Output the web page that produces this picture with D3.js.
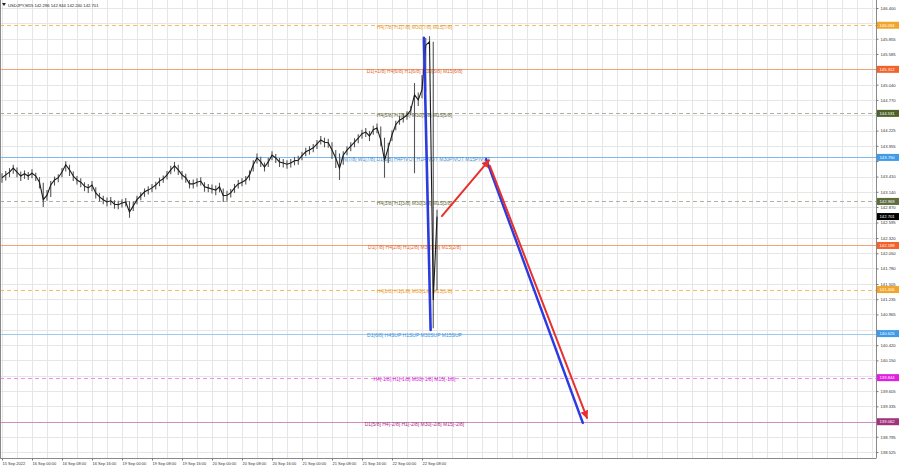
<!DOCTYPE html>
<html><head><meta charset="utf-8">
<script src="https://cdn.jsdelivr.net/npm/d3@7"></script>
<style>body{margin:0;background:#fff}svg{display:block;font-family:"Liberation Sans",Arial,sans-serif}</style>
</head><body><svg id="c" width="900" height="468"></svg>
<script>
// ---- data (hourly bars, hour 0 = 15 Sep 2022 16:00, trading hours) ----
const closes=[143.39,143.44,143.49,143.56,143.49,143.42,143.46,143.42,143.47,143.42,
143.31,143.00,143.08,143.26,143.35,143.39,143.49,143.62,143.53,143.42,
143.35,143.31,143.24,143.21,143.26,143.12,143.05,143.00,142.96,142.98,
142.92,142.91,142.94,142.96,142.78,142.89,143.00,143.07,143.14,143.17,
143.21,143.26,143.33,143.37,143.44,143.53,143.60,143.53,143.44,143.39,
143.28,143.28,143.31,143.33,143.23,143.21,143.19,143.17,143.23,143.07,
143.08,143.12,143.21,143.28,143.31,143.35,143.44,143.62,143.74,143.67,
143.58,143.67,143.79,143.74,143.67,143.65,143.63,143.65,143.69,143.70,
143.78,143.85,143.88,143.92,143.99,144.06,144.02,144.01,143.88,143.74,
143.56,143.79,143.88,143.95,144.02,144.09,144.17,144.20,144.13,144.24,
144.27,144.06,143.70,143.92,144.15,144.33,144.41,144.45,144.50,144.59,
144.86,144.77,144.95,145.74,145.80,141.22,142.70];
const highs=[143.47,143.51,143.56,143.62,143.57,143.50,143.52,143.49,143.54,143.48,
143.40,143.30,143.17,143.33,143.41,143.45,143.56,143.68,143.62,143.50,
143.42,143.38,143.31,143.28,143.33,143.22,143.12,143.07,143.04,143.05,
142.99,142.98,143.01,143.03,142.97,142.97,143.07,143.13,143.20,143.24,
143.28,143.32,143.39,143.43,143.51,143.60,143.67,143.62,143.51,143.46,
143.35,143.36,143.38,143.40,143.31,143.28,143.27,143.25,143.30,143.20,
143.16,143.19,143.28,143.35,143.38,143.42,143.52,143.70,143.82,143.76,
143.66,143.74,143.86,143.81,143.74,143.72,143.70,143.72,143.76,143.78,
143.85,143.92,143.95,143.99,144.06,144.13,144.10,144.08,144.02,143.88,
143.82,143.86,143.95,144.02,144.09,144.16,144.24,144.27,144.22,144.31,
144.35,144.30,144.10,144.01,144.23,144.40,144.48,144.53,144.57,144.66,
145.07,144.90,145.21,145.87,145.90,145.80,142.82];
const lows=[143.30,143.34,143.40,143.46,143.40,143.33,143.37,143.35,143.38,143.33,
143.20,142.87,142.98,143.05,143.25,143.31,143.40,143.50,143.42,143.33,
143.27,143.22,143.15,143.12,143.15,143.02,142.97,142.92,142.88,142.90,
142.84,142.83,142.86,142.88,142.68,142.80,142.92,142.99,143.05,143.09,
143.13,143.18,143.24,143.30,143.36,143.45,143.50,143.44,143.36,143.30,
143.20,143.20,143.23,143.25,143.14,143.13,143.11,143.08,143.13,142.96,
142.98,143.04,143.12,143.20,143.24,143.27,143.34,143.50,143.64,143.58,
143.50,143.58,143.70,143.65,143.58,143.57,143.55,143.57,143.61,143.62,
143.70,143.77,143.80,143.84,143.90,143.98,143.93,143.92,143.72,143.56,
143.35,143.62,143.79,143.86,143.93,144.00,144.08,144.11,144.04,144.15,
144.18,143.95,143.39,143.65,144.04,144.23,144.33,144.37,144.42,144.50,
143.47,144.66,144.80,144.92,145.66,140.72,141.40];

const timeLabels=["15 Sep 2022","16 Sep 00:00","16 Sep 08:00","16 Sep 16:00","19 Sep 00:00","19 Sep 08:00","19 Sep 16:00","20 Sep 00:00","20 Sep 08:00","20 Sep 16:00","21 Sep 00:00","21 Sep 08:00","21 Sep 16:00","22 Sep 00:00","22 Sep 08:00"];
const timeTickHours=[0,8,16,24,32,40,48,56,64,72,80,88,96,104,112];
const priceTicks=[146.400,146.130,145.855,145.585,145.315,145.040,144.770,144.500,144.225,143.955,143.685,143.410,143.140,142.870,142.595,142.320,142.050,141.780,141.505,141.235,140.965,140.690,140.420,140.150,139.875,139.605,139.335,139.060,138.795,138.525];

const levelPrices=[146.094,145.312,144.531,143.750,142.969,142.188,141.406,140.625,139.844,139.062];
const levelTexts=["H4[7/8] H1[7/8] M30[7/8] M15[7/8]",
"D1[+1/8] H4[6/8] H1[6/8] M30[6/8] M15[6/8]",
"H4[5/8] H1[5/8] M30[5/8] M15[5/8]",
"MN[7/8] W1[7/8] D1[5/8] H4PIVOT H1PIVOT M30PIVOT M15PIVOT",
"H4[3/8] H1[3/8] M30[3/8] M15[3/8]",
"D1[7/8] H4[2/8] H1[2/8] M30[2/8] M15[2/8]",
"H4[1/8] H1[1/8] M30[1/8] M15[1/8]",
"D1[6/8] H4SUP H1SUP M30SUP M15SUP",
"H4[-1/8] H1[-1/8] M30[-1/8] M15[-1/8]",
"D1[5/8] H4[-2/8] H1[-2/8] M30[-2/8] M15[-2/8]"];
const currentPrice=142.701;
const titleText="USDJPY,M15  142.286 142.844 142.240 142.701";

// forecast drawings (hour, price)
const blueDropHours=[112.5,114.3], blueDropPrices=[145.87,140.69];
const blueFcHours=[129.1,154.9], blueFcPrices=[143.72,139.04];
const redUpHours=[117.3,129.9], redUpPrices=[142.71,143.70];
const redDownHours=[130.1,156.0], redDownPrices=[143.60,139.13];

// ---- styles ----
const levelLine=["#f3bd6a","#f0a47a","#b0b0a0","#7dbbee","#b0b0a0","#f0a47a","#f3bd6a","#9ccbf0","#f28cf2","#cf8cc0"];
const levelDash=[true,false,true,false,true,false,true,false,true,false];
const levelText=["#e89a2a","#e8642c","#5e6c34","#3a90d8","#5e6c34","#e8642c","#e89a2a","#3a90d8","#d228d2","#a3327c"];
const levelBox=["#f2a52a","#f2622a","#4f6228","#3d9be9","#5d6b3d","#f2622a","#f2a52a","#3d9be9","#e020e0","#a3327c"];

const svg=d3.select("#c");
const W=876,B=458;
const x=d3.scaleLinear().domain([0,232]).range([2,872]);
const y=d3.scaleLinear().domain([138.525,146.4]).range([452,8]);

// grid
const g=svg.append("g");
g.selectAll(".gv").data(d3.range(0,234,4)).join("line")
 .attr("x1",d=>Math.round(x(d))+0.5).attr("x2",d=>Math.round(x(d))+0.5).attr("y1",0).attr("y2",B)
 .attr("stroke","#e6e6e6").attr("stroke-width",1);
g.selectAll(".gh").data(priceTicks).join("line")
 .attr("x1",0).attr("x2",W).attr("y1",d=>Math.round(y(d))+0.5).attr("y2",d=>Math.round(y(d))+0.5)
 .attr("stroke","#e6e6e6").attr("stroke-width",1);

// level lines
const lv=svg.append("g");
lv.selectAll("line").data(levelPrices).join("line")
 .attr("x1",0).attr("x2",W).attr("y1",d=>Math.round(y(d))+0.5).attr("y2",d=>Math.round(y(d))+0.5)
 .attr("stroke",(d,i)=>levelLine[i]).attr("stroke-width",1)
 .attr("stroke-dasharray",(d,i)=>levelDash[i]?"4,3":null);
lv.selectAll("text").data(levelPrices).join("text")
 .attr("x",x(110)).attr("y",d=>y(d)+3.8).attr("text-anchor","middle")
 .attr("font-size",5).attr("fill",(d,i)=>levelText[i]).text((d,i)=>levelTexts[i]);

// price bars
const bars=svg.append("g");
bars.selectAll("line").data(closes).join("line")
 .attr("x1",(d,i)=>x(i)).attr("x2",(d,i)=>x(i))
 .attr("y1",(d,i)=>y(highs[i])).attr("y2",(d,i)=>y(lows[i]))
 .attr("stroke","#555").attr("stroke-width",1.1);
bars.append("path").datum(closes)
 .attr("d",d3.line().x((d,i)=>x(i)).y(d=>y(d)))
 .attr("fill","none").attr("stroke","#1a1a1a").attr("stroke-width",1.1);

// forecast drawings
const defs=svg.append("defs");
defs.append("marker").attr("id","ah").attr("viewBox","0 0 10 10").attr("refX",9).attr("refY",5)
 .attr("markerWidth",4).attr("markerHeight",4).attr("orient","auto")
 .append("path").attr("d","M0,0L10,5L0,10z").attr("fill","#e8302c");
function seg(hs,ps,col,w,arrow){
 const l=svg.append("line").attr("x1",x(hs[0])).attr("y1",y(ps[0])).attr("x2",x(hs[1])).attr("y2",y(ps[1]))
  .attr("stroke",col).attr("stroke-width",w).attr("stroke-linecap","round");
 if(arrow) l.attr("marker-end","url(#ah)");
}
seg(blueDropHours,blueDropPrices,"#2b3be0",2.6,false);
seg(blueFcHours,blueFcPrices,"#2b3be0",2.4,false);
seg(redUpHours,redUpPrices,"#e8302c",2,true);
seg(redDownHours,redDownPrices,"#e8302c",2,true);

// frame
svg.append("line").attr("x1",W+0.5).attr("x2",W+0.5).attr("y1",0).attr("y2",B+0.5).attr("stroke","#8a8a8a");
svg.append("line").attr("x1",0).attr("x2",W).attr("y1",B+0.5).attr("y2",B+0.5).attr("stroke","#8a8a8a");
svg.append("line").attr("x1",0.5).attr("x2",0.5).attr("y1",0).attr("y2",B).attr("stroke","#8a8a8a");

// right axis (tick labels hidden where a level box covers them, as in the terminal)
const boxP=levelPrices.concat([currentPrice]);
const covered=p=>boxP.some(b=>Math.abs(y(b)-y(p))<4.5);
const ya=svg.append("g").attr("transform",`translate(${W+0.5},0)`)
 .call(d3.axisRight(y).tickValues(priceTicks).tickFormat(d3.format(".3f")).tickSize(2).tickPadding(2));
ya.select(".domain").remove();
ya.selectAll("line").attr("stroke","#777");
ya.selectAll("text").attr("font-size",4.2).attr("fill","#333").attr("font-family","Liberation Sans, Arial, sans-serif");
ya.selectAll(".tick").filter(d=>covered(d)).select("text").remove();

// bottom axis
const xa=svg.append("g").attr("transform",`translate(0,${B+0.5})`)
 .call(d3.axisBottom(x).tickValues(timeTickHours).tickFormat((d,i)=>timeLabels[i]).tickSize(2).tickPadding(2));
xa.select(".domain").remove();
xa.selectAll("line").attr("stroke","#777");
xa.selectAll("text").attr("font-size",4).attr("fill","#333").attr("text-anchor","start").attr("dx",0)
 .attr("font-family","Liberation Sans, Arial, sans-serif");

// level boxes on axis
const bx=svg.append("g");
const boxC=levelBox.concat(["#000000"]);
bx.selectAll("rect").data(boxP).join("rect")
 .attr("x",W+1).attr("y",d=>y(d)-3.5).attr("width",22).attr("height",7).attr("fill",(d,i)=>boxC[i]);
bx.selectAll("text").data(boxP).join("text")
 .attr("x",W+3.5).attr("y",d=>y(d)+1.5).attr("font-size",4.2).attr("fill","#fff")
 .text(d=>d3.format(".3f")(d));

// title
svg.append("path").attr("d","M2,3L6,3L4,6z").attr("fill","#222");
svg.append("text").attr("x",8).attr("y",6.5).attr("font-size",4.2).attr("fill","#222").text(titleText);
</script></body></html>
